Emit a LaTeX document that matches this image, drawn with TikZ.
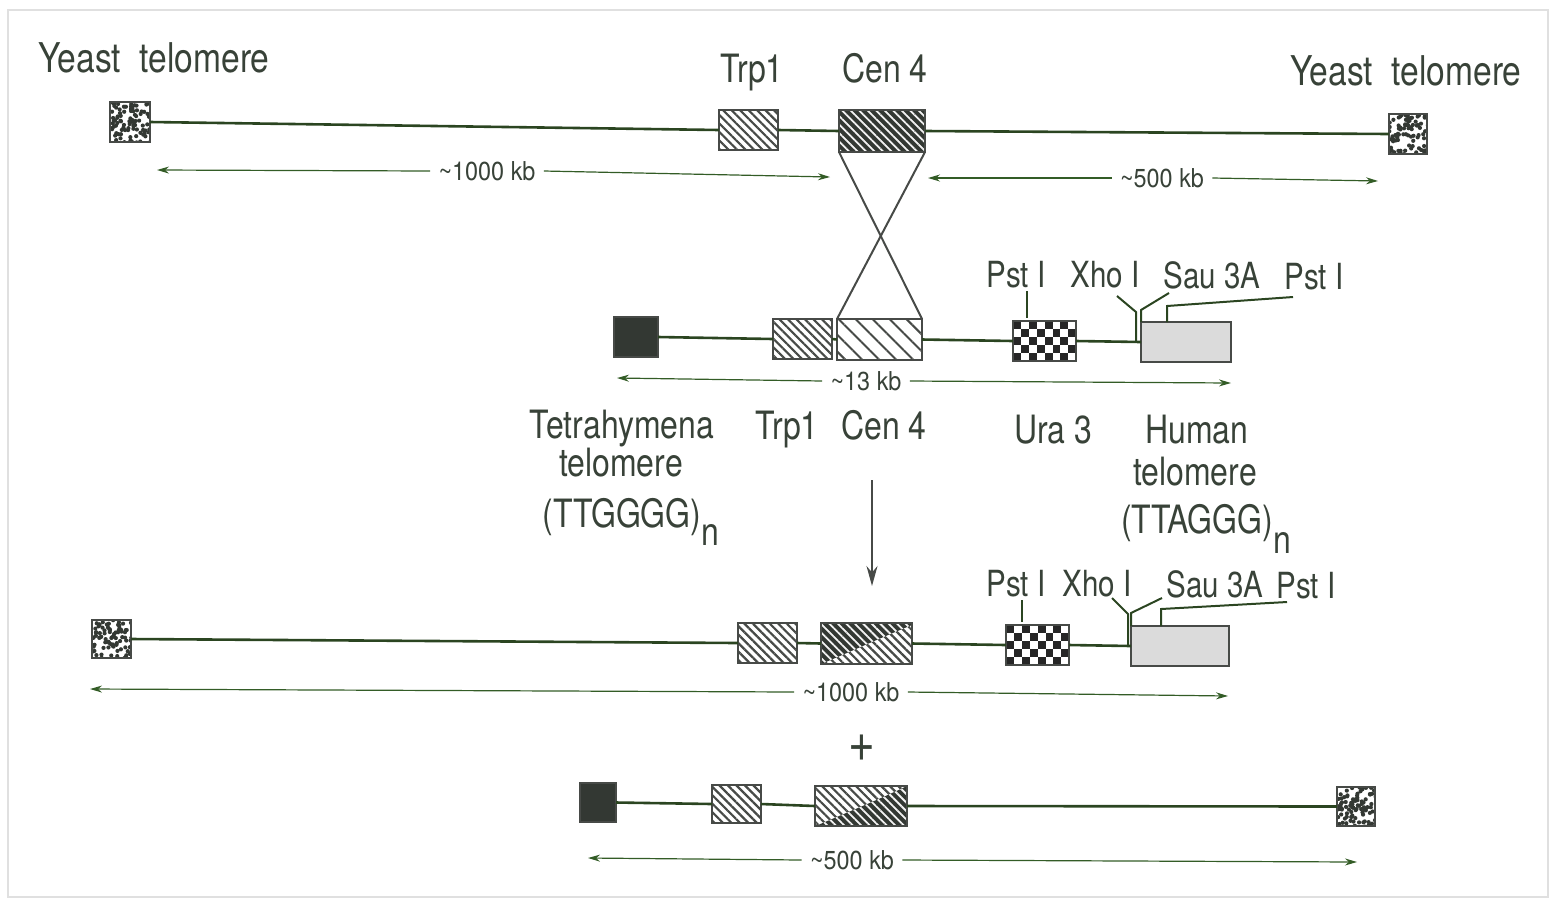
\documentclass[tikz,border=0pt]{standalone}
\usepackage{fontspec}
\setmainfont{TeX Gyre Heros}[FakeStretch=0.82]
\newfontfamily\dimfont{TeX Gyre Heros}[FakeStretch=0.9]
\usetikzlibrary{patterns.meta,fit,arrows.meta,calc}
\definecolor{ink}{rgb}{0.22,0.26,0.22}
\definecolor{dna}{rgb}{0.17,0.27,0.13}
\definecolor{dimc}{rgb}{0.2,0.36,0.15}
\definecolor{boxc}{rgb}{0.28,0.29,0.28}
\definecolor{darkfill}{rgb}{0.2,0.22,0.2}
\definecolor{framec}{rgb}{0.88,0.88,0.88}
\tikzset{
  box/.style={draw=boxc, line width=1pt, inner sep=0pt, outer sep=0pt},
  yeasttel/.style={box, fill=white, path picture={
      \foreach \k in {1,...,95}{\fill[darkfill] ($(path picture bounding box.north west)+(rnd*42,rnd*42)$) circle (1.05pt);}}},
  lighthatch/.style={box, pattern={Lines[angle=-45,distance=3pt,line width=1.1pt]}, pattern color=boxc},
  darkpat/.style={preaction={fill=darkfill}, pattern={Lines[angle=-45,distance=3pt,line width=0.9pt]}, pattern color=white!90!gray},
  darkhatch/.style={box, darkpat},
  widehatch/.style={box, pattern={Lines[angle=-45,distance=6pt,line width=1pt]}, pattern color=boxc},
  tetra/.style={box, fill=darkfill},
  human/.style={box, fill=gray!28},
  checker/.style={box, fill=white, path picture={
      \foreach \i in {0,...,7}{\foreach \j in {0,...,4}{\ifodd\numexpr\i+\j\relax\else
        \fill[black!85] ($(path picture bounding box.north west)+(\i*7.9,\j*8)$) rectangle ++(7.9,8);\fi}}}},
  dnaline/.style={draw=dna, line width=1.3pt},
  xline/.style={draw=boxc, line width=1pt},
  siteline/.style={draw=dna, line width=1pt},
  dim/.style={draw=dimc, line width=0.6pt, -{Stealth[length=6pt,width=3.5pt]}},
  lab/.style={text=ink, font=\fontsize{19.5}{21}\selectfont, inner sep=0pt, anchor=base},
  biglab/.style={lab, font=\fontsize{20.5}{22}\selectfont},
  enz/.style={lab, font=\fontsize{18}{20}\selectfont},
  dimlab/.style={text=ink, font=\dimfont\fontsize{13}{15}\selectfont, inner sep=4pt, anchor=center},
}
\begin{document}
\begin{tikzpicture}[x=0.5pt,y=-0.5pt]
\useasboundingbox (0,0) rectangle (1556,906);
\draw[framec, line width=1pt] (8,10) rectangle (1548,897);

% ---------- Row 1 ----------
\node[yeasttel, fit={(110,102)(150,142)}] (yt1) {};
\node[lighthatch, fit={(719,110)(778,150)}] (trp1a) {};
\node[darkhatch, fit={(839,110)(925,152)}] (cen1) {};
\node[yeasttel, fit={(1389,114)(1427,154)}] (yt2) {};
\draw[dnaline] (yt1.east) -- (trp1a.west);
\draw[dnaline] (trp1a.east) -- (cen1.west);
\draw[dnaline] (cen1.east) -- (yt2.west);

\node[biglab] (l_yt1) at (154,72) {Yeast\hspace{0.45em}telomere};
\node[lab] (l_trp1) at (752,82) {Trp1};
\node[lab] (l_cen1) at (885,82) {Cen 4};
\node[biglab] (l_yt2) at (1406,85) {Yeast\hspace{0.45em}telomere};

\node[dimlab] (d1) at (487,171) {\textasciitilde 1000 kb};
\coordinate (d1l) at (157,170); \coordinate (d1r) at (830,177);
\draw[dim] (d1.west) -- (d1l); \draw[dim] (d1.east) -- (d1r);
\node[dimlab] (d2) at (1162,178) {\textasciitilde 500 kb};
\coordinate (d2l) at (928,178); \coordinate (d2r) at (1378,181);
\draw[dim] (d2.west) -- (d2l); \draw[dim] (d2.east) -- (d2r);

% ---------- Row 2 ----------
\node[tetra, fit={(614,317)(658,357)}] (tt2) {};
\node[lighthatch, fit={(773,319)(832,359)}] (trp2) {};
\node[widehatch, fit={(837,319)(922,360)}] (cen2) {};
\node[checker, fit={(1013,321)(1076,361)}] (ura2) {};
\node[human, fit={(1141,322)(1231,362)}] (ht2) {};
\draw[dnaline] (tt2.east) -- (trp2.west);
\draw[dnaline] (trp2.east) -- (cen2.west);
\draw[dnaline] (cen2.east) -- (ura2.west);
\draw[dnaline] (ura2.east) -- (ht2.west);

% crossover
\draw[xline] (cen1.south west) -- (cen2.north east);
\draw[xline] (cen1.south east) -- (cen2.north west);

% restriction sites row 2
\node[enz] (e2a) at (1016,287) {Pst I};
\node[enz] (e2b) at (1105,287) {Xho I};
\node[enz] (e2c) at (1212,288) {Sau 3A};
\node[enz] (e2d) at (1314,289) {Pst I};
\coordinate (s2a1) at (1027,291); \coordinate (s2a2) at (1027,318);
\draw[siteline] (s2a1) -- (s2a2);
\coordinate (s2b1) at (1117,296); \coordinate (s2b2) at (1136,312); \coordinate (s2b3) at (1136,341);
\draw[siteline] (s2b1) -- (s2b2) -- (s2b3);
\coordinate (s2c1) at (1169,293); \coordinate (s2c2) at (1141,310);
\draw[siteline] (s2c1) -- (s2c2) -- (ht2.north west);
\coordinate (s2d1) at (1293,297); \coordinate (s2d2) at (1167,306); \coordinate (s2d3) at (1167,322);
\draw[siteline] (s2d1) -- (s2d2) -- (s2d3);

\node[dimlab] (d3) at (866,381) {\textasciitilde 13 kb};
\coordinate (d3l) at (617,378); \coordinate (d3r) at (1231,383);
\draw[dim] (d3.west) -- (d3l); \draw[dim] (d3.east) -- (d3r);

\node[lab] (l_tet1) at (622,438) {Tetrahymena};
\node[lab] (l_tet2) at (621,476) {telomere};
\node[lab] (l_tet3) at (631,527) {(TTGGGG)\raisebox{-9pt}{n}};
\node[lab] (l_trp2) at (787,439) {Trp1};
\node[lab] (l_cen2) at (884,439) {Cen 4};
\node[lab] (l_ura2) at (1053,443) {Ura 3};
\node[lab] (l_hum1) at (1197,443) {Human};
\node[lab] (l_hum2) at (1195,485) {telomere};
\node[lab] (l_hum3) at (1206,533) {(TTAGGG)\raisebox{-10pt}{n}};

% down arrow
\coordinate (da1) at (872,480); \coordinate (da2) at (872,586);
\draw[draw=boxc, line width=1pt, -{Stealth[length=10pt,width=5.5pt]}] (da1) -- (da2);

% ---------- Row 3 ----------
\node[yeasttel, fit={(92,620)(131,658)}] (yt3) {};
\node[lighthatch, fit={(738,623)(797,663)}] (trp3) {};
\node[lighthatch, fit={(821,623)(912,664)}, path picture={
   \path[darkpat]
     ($(path picture bounding box.north west)+(-5,-5)$) -- ($(path picture bounding box.north west)+(96,-5)$)
     -- ($(path picture bounding box.north west)+(96,2)$) -- ($(path picture bounding box.north west)+(91,2)$)
     .. controls ($(path picture bounding box.north west)+(59,15)$) and ($(path picture bounding box.north west)+(29,29)$)
     .. ($(path picture bounding box.north west)+(0,41)$) -- ($(path picture bounding box.north west)+(-5,41)$) -- cycle;
   }] (cen3) {};
\node[checker, fit={(1006,625)(1069,665)}] (ura3) {};
\node[human, fit={(1131,626)(1229,666)}] (ht3) {};
\draw[dnaline] (yt3.east) -- (trp3.west);
\draw[dnaline] (trp3.east) -- (cen3.west);
\draw[dnaline] (cen3.east) -- (ura3.west);
\draw[dnaline] (ura3.east) -- (ht3.west);

\node[enz] (e3a) at (1016,596) {Pst I};
\node[enz] (e3b) at (1097,596) {Xho I};
\node[enz] (e3c) at (1215,597) {Sau 3A};
\node[enz] (e3d) at (1306,598) {Pst I};
\coordinate (s3a1) at (1022,600); \coordinate (s3a2) at (1022,622);
\draw[siteline] (s3a1) -- (s3a2);
\coordinate (s3b1) at (1112,598); \coordinate (s3b2) at (1128,614); \coordinate (s3b3) at (1128,645);
\draw[siteline] (s3b1) -- (s3b2) -- (s3b3);
\coordinate (s3c1) at (1162,598); \coordinate (s3c2) at (1131,613);
\draw[siteline] (s3c1) -- (s3c2) -- (ht3.north west);
\coordinate (s3d1) at (1287,602); \coordinate (s3d2) at (1161,609); \coordinate (s3d3) at (1161,626);
\draw[siteline] (s3d1) -- (s3d2) -- (s3d3);

\node[dimlab] (d4) at (851,692) {\textasciitilde 1000 kb};
\coordinate (d4l) at (90,689); \coordinate (d4r) at (1228,696);
\draw[dim] (d4.west) -- (d4l); \draw[dim] (d4.east) -- (d4r);

\node[text=ink, font=\fontsize{28}{30}\selectfont, inner sep=0pt] (plus) at (862,748) {+};

% ---------- Row 4 ----------
\node[tetra, fit={(580,783)(616,822)}] (tt4) {};
\node[lighthatch, fit={(712,785)(761,823)}] (trp4) {};
\node[lighthatch, fit={(815,786)(907,826)}, path picture={
   \path[darkpat]
     ($(path picture bounding box.north west)+(3,39)$)
     .. controls ($(path picture bounding box.north west)+(33,26)$) and ($(path picture bounding box.north west)+(63,14)$)
     .. ($(path picture bounding box.north west)+(92,0)$) -- ($(path picture bounding box.north west)+(98,0)$)
     -- ($(path picture bounding box.north west)+(98,46)$) -- ($(path picture bounding box.north west)+(-5,46)$)
     -- ($(path picture bounding box.north west)+(-5,39)$) -- cycle;
   }] (cen4) {};
\node[yeasttel, fit={(1337,787)(1375,826)}] (yt4) {};
\draw[dnaline] (tt4.east) -- (trp4.west);
\draw[dnaline] (trp4.east) -- (cen4.west);
\draw[dnaline] (cen4.east) -- (yt4.west);

\node[dimlab] (d5) at (852,860) {\textasciitilde 500 kb};
\coordinate (d5l) at (588,858); \coordinate (d5r) at (1357,862);
\draw[dim] (d5.west) -- (d5l); \draw[dim] (d5.east) -- (d5r);
\end{tikzpicture}
\end{document}
